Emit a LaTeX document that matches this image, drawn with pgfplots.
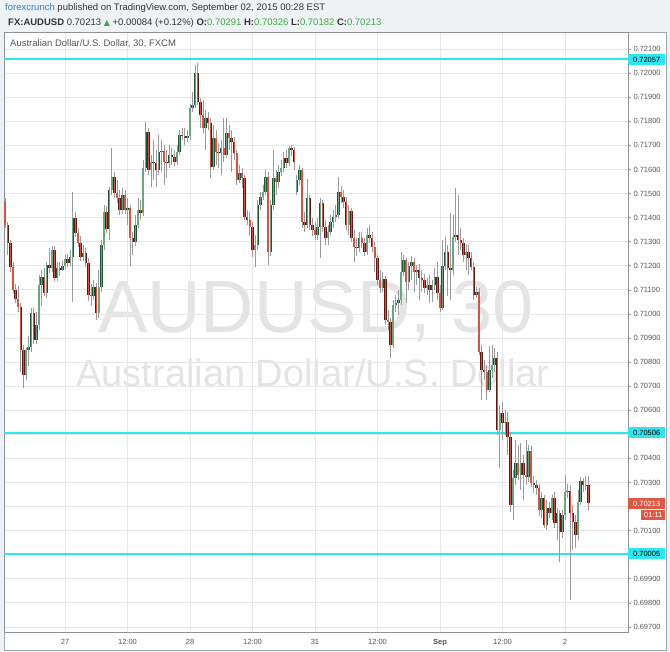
\documentclass[border=0pt]{standalone}
\usepackage{pgfplots}
\pgfplotsset{compat=1.18}
\usepackage{pgfplotstable}
\usepackage{fontspec}
\setmainfont{Liberation Sans}
\newfontfamily\dejavu{DejaVu Sans}

\definecolor{bgout}{HTML}{EFF2F5}
\definecolor{pane}{HTML}{A3A8AD}
\definecolor{axln}{HTML}{8E9398}
\definecolor{gridc}{HTML}{E8E8E8}
\definecolor{axtext}{HTML}{555555}
\definecolor{hdr}{HTML}{333333}
\definecolor{fcblue}{HTML}{2E84C6}
\definecolor{upg}{HTML}{3DAA47}
\definecolor{wm}{HTML}{E4E4E4}
\definecolor{cyanc}{HTML}{2FE6F0}
\definecolor{lastred}{HTML}{DB5A46}
\definecolor{wick}{HTML}{9A9A9C}
\definecolor{upb}{HTML}{225437}
\definecolor{upf}{HTML}{6BA583}
\definecolor{dnb}{HTML}{5B1A13}
\definecolor{dnf}{HTML}{D75442}

% AUDUSD 30 min candles: bar index, open, high, low, close
\pgfplotstableread{
x o h l c
-23 0.71465 0.71481 0.71357 0.71369
-22 0.71369 0.71382 0.71245 0.71295
-21 0.71295 0.71307 0.71174 0.71195
-20 0.71195 0.71216 0.71087 0.71099
-19 0.71099 0.71124 0.71045 0.71062
-18 0.71062 0.71116 0.71008 0.71029
-17 0.71029 0.71045 0.70759 0.70850
-16 0.70850 0.70871 0.70692 0.70746
-15 0.70746 0.70859 0.70726 0.70850
-14 0.70850 0.70908 0.70784 0.70863
-13 0.70863 0.71025 0.70842 0.71004
-12 0.71004 0.71025 0.70875 0.70892
-11 0.70892 0.71008 0.70875 0.70954
-10 0.70954 0.71162 0.70933 0.71120
-9 0.71120 0.71182 0.71033 0.71153
-8 0.71153 0.71191 0.71074 0.71087
-7 0.71087 0.71216 0.71066 0.71203
-6 0.71203 0.71274 0.71170 0.71191
-5 0.71191 0.71282 0.71174 0.71265
-4 0.71265 0.71282 0.71137 0.71149
-3 0.71149 0.71216 0.71137 0.71191
-2 0.71191 0.71216 0.71157 0.71182
-1 0.71182 0.71220 0.71178 0.71199
0 0.71199 0.71245 0.71187 0.71228
1 0.71228 0.71249 0.71195 0.71211
2 0.71211 0.71265 0.71199 0.71236
3 0.71236 0.71506 0.71050 0.71398
4 0.71398 0.71423 0.71319 0.71336
5 0.71336 0.71357 0.71278 0.71295
6 0.71295 0.71324 0.71220 0.71236
7 0.71236 0.71286 0.71220 0.71253
8 0.71253 0.71274 0.71195 0.71211
9 0.71211 0.71232 0.71054 0.71079
10 0.71079 0.71124 0.71033 0.71074
11 0.71074 0.71141 0.71058 0.71112
12 0.71112 0.71128 0.70975 0.71004
13 0.71004 0.71182 0.70983 0.71112
14 0.71112 0.71307 0.71091 0.71286
15 0.71286 0.71452 0.71265 0.71423
16 0.71423 0.71448 0.71336 0.71353
17 0.71353 0.71527 0.71307 0.71515
18 0.71515 0.71689 0.71494 0.71569
19 0.71569 0.71589 0.71481 0.71502
20 0.71502 0.71556 0.71461 0.71481
21 0.71481 0.71515 0.71411 0.71432
22 0.71432 0.71523 0.71415 0.71494
23 0.71494 0.71515 0.71415 0.71432
24 0.71432 0.71481 0.71369 0.71440
25 0.71440 0.71452 0.71199 0.71315
26 0.71315 0.71340 0.71245 0.71299
27 0.71299 0.71411 0.71282 0.71369
28 0.71369 0.71481 0.71357 0.71432
29 0.71432 0.71473 0.71390 0.71419
30 0.71419 0.71639 0.71407 0.71606
31 0.71606 0.71797 0.71589 0.71755
32 0.71755 0.71772 0.71577 0.71598
33 0.71598 0.71660 0.71527 0.71631
34 0.71631 0.71722 0.71556 0.71627
35 0.71627 0.71681 0.71527 0.71598
36 0.71598 0.71743 0.71577 0.71672
37 0.71672 0.71722 0.71589 0.71677
38 0.71677 0.71701 0.71535 0.71631
39 0.71631 0.71681 0.71564 0.71627
40 0.71627 0.71701 0.71606 0.71660
41 0.71660 0.71689 0.71618 0.71652
42 0.71652 0.71681 0.71614 0.71631
43 0.71631 0.71701 0.71618 0.71672
44 0.71672 0.71764 0.71660 0.71743
45 0.71743 0.71772 0.71722 0.71739
46 0.71739 0.71772 0.71701 0.71730
47 0.71730 0.71764 0.71714 0.71739
48 0.71739 0.71872 0.71722 0.71855
49 0.71855 0.71921 0.71838 0.71867
50 0.71867 0.72034 0.71855 0.72000
51 0.72000 0.72042 0.71867 0.71880
52 0.71880 0.71897 0.71772 0.71826
53 0.71826 0.71888 0.71751 0.71772
54 0.71772 0.71847 0.71681 0.71814
55 0.71814 0.71838 0.71764 0.71793
56 0.71793 0.71814 0.71564 0.71610
57 0.71610 0.71784 0.71598 0.71730
58 0.71730 0.71764 0.71618 0.71672
59 0.71672 0.71710 0.71606 0.71668
60 0.71668 0.71722 0.71577 0.71689
61 0.71689 0.71814 0.71631 0.71660
62 0.71660 0.71814 0.71647 0.71751
63 0.71751 0.71784 0.71681 0.71730
64 0.71730 0.71764 0.71589 0.71714
65 0.71714 0.71735 0.71639 0.71668
66 0.71668 0.71681 0.71535 0.71556
67 0.71556 0.71618 0.71544 0.71585
68 0.71585 0.71606 0.71523 0.71564
69 0.71564 0.71577 0.71390 0.71402
70 0.71402 0.71432 0.71369 0.71390
71 0.71390 0.71423 0.71324 0.71361
72 0.71361 0.71382 0.71236 0.71265
73 0.71265 0.71328 0.71195 0.71286
74 0.71286 0.71473 0.71265 0.71452
75 0.71452 0.71506 0.71432 0.71485
76 0.71485 0.71535 0.71473 0.71506
77 0.71506 0.71598 0.71494 0.71569
78 0.71569 0.71589 0.71203 0.71257
79 0.71257 0.71473 0.71241 0.71452
80 0.71452 0.71681 0.71432 0.71564
81 0.71564 0.71598 0.71494 0.71548
82 0.71548 0.71618 0.71523 0.71589
83 0.71589 0.71639 0.71573 0.71606
84 0.71606 0.71672 0.71589 0.71647
85 0.71647 0.71681 0.71606 0.71627
86 0.71627 0.71697 0.71614 0.71689
87 0.71689 0.71701 0.71656 0.71681
88 0.71681 0.71693 0.71598 0.71631
89 0.71506 0.71577 0.71494 0.71556
90 0.71556 0.71618 0.71535 0.71598
91 0.71598 0.71606 0.71357 0.71382
92 0.71382 0.71423 0.71340 0.71369
93 0.71369 0.71560 0.71357 0.71481
94 0.71481 0.71494 0.71348 0.71369
95 0.71369 0.71398 0.71324 0.71348
96 0.71348 0.71382 0.71307 0.71328
97 0.71328 0.71398 0.71307 0.71361
98 0.71361 0.71481 0.71232 0.71461
99 0.71461 0.71473 0.71340 0.71361
100 0.71361 0.71390 0.71286 0.71315
101 0.71315 0.71369 0.71286 0.71340
102 0.71340 0.71411 0.71328 0.71382
103 0.71382 0.71432 0.71357 0.71402
104 0.71402 0.71452 0.71382 0.71411
105 0.71411 0.71569 0.71398 0.71506
106 0.71506 0.71531 0.71461 0.71485
107 0.71485 0.71515 0.71440 0.71465
108 0.71465 0.71485 0.71348 0.71369
109 0.71369 0.71452 0.71328 0.71427
110 0.71427 0.71440 0.71299 0.71315
111 0.71315 0.71348 0.71216 0.71278
112 0.71278 0.71315 0.71241 0.71274
113 0.71274 0.71340 0.71257 0.71315
114 0.71315 0.71340 0.71274 0.71295
115 0.71295 0.71315 0.71241 0.71257
116 0.71257 0.71357 0.71245 0.71328
117 0.71328 0.71369 0.71295 0.71315
118 0.71315 0.71340 0.71257 0.71278
119 0.71278 0.71299 0.71174 0.71232
120 0.71232 0.71245 0.71120 0.71141
121 0.71141 0.71182 0.71087 0.71108
122 0.71108 0.71174 0.71091 0.71145
123 0.71145 0.71157 0.70954 0.70975
124 0.70975 0.71016 0.70933 0.70966
125 0.70966 0.70983 0.70817 0.70871
126 0.70871 0.71058 0.70859 0.71037
127 0.71037 0.71079 0.71008 0.71045
128 0.71045 0.71099 0.70996 0.71058
129 0.71058 0.71257 0.71037 0.71174
130 0.71174 0.71245 0.71157 0.71224
131 0.71224 0.71232 0.71045 0.71133
132 0.71133 0.71216 0.71099 0.71199
133 0.71199 0.71241 0.71141 0.71216
134 0.71216 0.71232 0.71091 0.71174
135 0.71174 0.71203 0.71120 0.71182
136 0.71182 0.71207 0.71058 0.71149
137 0.71149 0.71182 0.71091 0.71141
138 0.71141 0.71166 0.71087 0.71108
139 0.71108 0.71149 0.71079 0.71120
140 0.71120 0.71162 0.71045 0.71099
141 0.71099 0.71141 0.71050 0.71120
142 0.71120 0.71191 0.71099 0.71153
143 0.71153 0.71216 0.71058 0.71087
144 0.71087 0.71120 0.71008 0.71025
145 0.71025 0.71307 0.71016 0.71199
146 0.71199 0.71319 0.71182 0.71257
147 0.71257 0.71286 0.71074 0.71191
148 0.71191 0.71419 0.71058 0.71182
149 0.71182 0.71411 0.71162 0.71319
150 0.71319 0.71523 0.71299 0.71328
151 0.71328 0.71494 0.71245 0.71307
152 0.71307 0.71357 0.71265 0.71295
153 0.71295 0.71315 0.71216 0.71245
154 0.71245 0.71290 0.71182 0.71257
155 0.71257 0.71286 0.71162 0.71232
156 0.71232 0.71257 0.71182 0.71195
157 0.71195 0.71216 0.71058 0.71079
158 0.71079 0.71112 0.71066 0.71091
159 0.71091 0.71108 0.70829 0.70842
160 0.70842 0.70871 0.70643 0.70767
161 0.70767 0.70809 0.70726 0.70759
162 0.70759 0.70788 0.70643 0.70684
163 0.70684 0.70867 0.70676 0.70767
164 0.70767 0.70871 0.70734 0.70788
165 0.70788 0.70859 0.70759 0.70817
166 0.70817 0.70842 0.70497 0.70518
167 0.70518 0.70622 0.70360 0.70589
168 0.70589 0.70634 0.70477 0.70547
169 0.70547 0.70601 0.70497 0.70551
170 0.70551 0.70593 0.70414 0.70489
171 0.70489 0.70510 0.70178 0.70207
172 0.70207 0.70352 0.70144 0.70319
173 0.70319 0.70477 0.70290 0.70381
174 0.70381 0.70456 0.70310 0.70331
175 0.70331 0.70464 0.70269 0.70381
176 0.70381 0.70414 0.70227 0.70331
177 0.70331 0.70477 0.70290 0.70323
178 0.70323 0.70456 0.70302 0.70431
179 0.70431 0.70452 0.70281 0.70298
180 0.70298 0.70327 0.70257 0.70290
181 0.70290 0.70310 0.70248 0.70277
182 0.70277 0.70294 0.70161 0.70186
183 0.70186 0.70261 0.70153 0.70236
184 0.70236 0.70248 0.70111 0.70124
185 0.70124 0.70227 0.70103 0.70194
186 0.70194 0.70219 0.70153 0.70173
187 0.70173 0.70248 0.70144 0.70236
188 0.70236 0.70261 0.70111 0.70132
189 0.70132 0.70194 0.70061 0.70173
190 0.70173 0.70186 0.69970 0.70095
191 0.70095 0.70186 0.70070 0.70165
192 0.70165 0.70331 0.70144 0.70261
193 0.70261 0.70294 0.70236 0.70265
194 0.70265 0.70290 0.69812 0.70173
195 0.70173 0.70207 0.70020 0.70136
196 0.70136 0.70165 0.70028 0.70082
197 0.70082 0.70269 0.70061 0.70219
198 0.70219 0.70323 0.70207 0.70306
199 0.70306 0.70319 0.70261 0.70290
200 0.70290 0.70327 0.70269 0.70291
201 0.70291 0.70326 0.70182 0.70213
}\candles

\begin{document}
\begin{tikzpicture}
\fill[bgout] (0,0) rectangle (670pt,652pt);
\useasboundingbox (0,0) rectangle (670pt,652pt);
\filldraw[fill=white, draw=pane, line width=0.8pt] (4pt,2pt) rectangle (666pt,620pt);

% header lines
\node[anchor=west, inner sep=0pt, font=\fontsize{9.5}{10}\selectfont, text=hdr] at (5pt,644pt)
  {\textcolor{fcblue}{forexcrunch} published on TradingView.com, September 02, 2015 00:28 EST};
\node[anchor=west, inner sep=0pt, font=\fontsize{9.5}{10}\selectfont, text=hdr] at (8pt,629pt)
  {\textbf{FX:AUDUSD} 0.70213 {\dejavu\fontsize{8}{9}\selectfont\color{upg}▲} +0.00084 (+0.12\%) \textbf{O:}\textcolor{upg}{0.70291} \textbf{H:}\textcolor{upg}{0.70326} \textbf{L:}\textcolor{upg}{0.70182} \textbf{C:}\textcolor{upg}{0.70213}};

% watermark
\node[anchor=base, inner sep=0pt, font=\fontsize{74}{74}\selectfont, text=wm] at (316pt,319pt) {AUDUSD, 30};
\node[anchor=base, inner sep=0pt, font=\fontsize{38}{38}\selectfont, text=wm] at (313pt,265pt) {Australian Dollar/U.S. Dollar};

\begin{axis}[
  at={(4pt,20pt)}, anchor=south west,
  scale only axis, width=624pt, height=600pt,
  xmin=-23.43, xmax=216.2, ymin=0.69679, ymax=0.72171,
  clip=false,
  axis line style={draw=axln, line width=0.8pt},
  xtick={0,24,48,72,96,120,144,168,192},
  xticklabels={27,12:00,28,12:00,31,12:00,\textbf{Sep},12:00,2},
  ytick={0.697,0.698,0.699,0.700,0.701,0.702,0.703,0.704,0.705,0.706,0.707,0.708,0.709,0.710,0.711,0.712,0.713,0.714,0.715,0.716,0.717,0.718,0.719,0.720,0.721},
  yticklabels={0.69700,0.69800,0.69900,,0.70100,,0.70300,0.70400,,0.70600,0.70700,0.70800,0.70900,0.71000,0.71100,0.71200,0.71300,0.71400,0.71500,0.71600,0.71700,0.71800,0.71900,0.72000,0.72100},
  yticklabel pos=right, ytick pos=right, xtick pos=bottom,
  tick align=outside, major tick length=3pt,
  xtick style={draw=none},
  ytick style={draw=axln, line width=0.6pt},
  grid=major, major grid style={draw=gridc, line width=0.8pt},
  ticklabel style={font=\fontsize{7.5}{8}\selectfont, text=axtext},
  yticklabel style={anchor=west, xshift=-1pt},
  xticklabel style={yshift=-1pt},
]
% support / resistance lines
\addplot[cyanc, line width=2pt, forget plot] coordinates {(-23.43,0.72057) (216.2,0.72057)};
\addplot[cyanc, line width=2pt, forget plot] coordinates {(-23.43,0.70506) (216.2,0.70506)};
\addplot[cyanc, line width=2pt, forget plot] coordinates {(-23.43,0.70005) (216.2,0.70005)};

% wicks
\addplot[draw=none, mark=none, forget plot,
  error bars/.cd, y dir=plus, y explicit, error mark=none,
  error bar style={draw=wick, line width=0.8pt}]
  table[x=x, y=l, y error plus expr=\thisrow{h}-\thisrow{l}] {\candles};

% up bodies
\addplot[draw=none, mark=none, forget plot,
  error bars/.cd, y dir=plus, y explicit, error mark=none,
  error bar style={draw=upb, line width=2.4pt}]
  table[x=x, y expr={\thisrow{c}>\thisrow{o} ? \thisrow{o} : nan}, y error plus expr=\thisrow{c}-\thisrow{o}] {\candles};
\addplot[draw=none, mark=none, forget plot,
  error bars/.cd, y dir=plus, y explicit, error mark=none,
  error bar style={draw=upf, line width=1.3pt}]
  table[x=x, y expr={\thisrow{c}>\thisrow{o} ? \thisrow{o} : nan}, y error plus expr=\thisrow{c}-\thisrow{o}] {\candles};

% down bodies
\addplot[draw=none, mark=none, forget plot,
  error bars/.cd, y dir=plus, y explicit, error mark=none,
  error bar style={draw=dnb, line width=2.4pt}]
  table[x=x, y expr={\thisrow{c}>\thisrow{o} ? nan : \thisrow{c}}, y error plus expr=\thisrow{o}-\thisrow{c}] {\candles};
\addplot[draw=none, mark=none, forget plot,
  error bars/.cd, y dir=plus, y explicit, error mark=none,
  error bar style={draw=dnf, line width=1.3pt}]
  table[x=x, y expr={\thisrow{c}>\thisrow{o} ? nan : \thisrow{c}}, y error plus expr=\thisrow{o}-\thisrow{c}] {\candles};

% price scale labels
\node[anchor=west, fill=cyanc, inner sep=0pt, minimum height=11pt, minimum width=37pt,
  font=\fontsize{7.5}{8}\selectfont, text=black] at (axis cs:216.2,0.72057) {0.72057};
\node[anchor=west, fill=cyanc, inner sep=0pt, minimum height=11pt, minimum width=37pt,
  font=\fontsize{7.5}{8}\selectfont, text=black] at (axis cs:216.2,0.70506) {0.70506};
\node[anchor=west, fill=cyanc, inner sep=0pt, minimum height=11pt, minimum width=37pt,
  font=\fontsize{7.5}{8}\selectfont, text=black] at (axis cs:216.2,0.70005) {0.70005};
\node[anchor=west, fill=lastred, inner sep=0pt, minimum height=11pt, minimum width=37pt,
  font=\fontsize{7.5}{8}\selectfont, text=white] (lp) at (axis cs:216.2,0.70213) {0.70213};
\node[anchor=north east, fill=lastred, inner sep=0pt, minimum height=10pt, minimum width=24pt,
  font=\fontsize{7.5}{8}\selectfont, text=white] at ([yshift=-1pt]lp.south east) {01:11};
\end{axis}

\node[anchor=west, inner sep=0pt, font=\fontsize{9.5}{10}\selectfont, text=axtext] at (10pt,608pt)
  {Australian Dollar/U.S. Dollar, 30, FXCM};
\end{tikzpicture}
\end{document}
